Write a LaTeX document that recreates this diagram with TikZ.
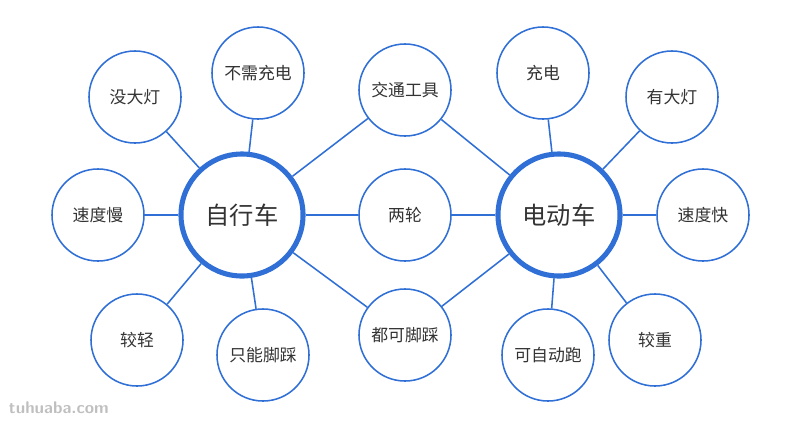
\documentclass[tikz,border=0pt]{standalone}
\usepackage{fontspec}
\usepackage{xcolor}
\setmainfont{Noto Sans CJK SC}
\definecolor{mapblue}{HTML}{2F6FD6}
\definecolor{maptext}{HTML}{333333}
\tikzset{
	leaf/.style={circle, draw=mapblue, line width=1.1pt, fill=white, minimum size=2.3cm, inner sep=0pt, text=maptext, font=\large},
	hub/.style={circle, draw=mapblue, line width=3.6pt, fill=white, minimum size=3.05cm, inner sep=0pt, text=maptext, font=\LARGE},
	link/.style={draw=mapblue, line width=1.1pt}
}
\begin{document}
\begin{tikzpicture}[x=0.025cm, y=-0.025cm]
	\useasboundingbox (0,0) rectangle (800,423);
	% hubs
	\node[hub] (bike) at (242,215) {自行车};
	\node[hub] (ebike) at (559,215) {电动车};
	% leaves
	\node[leaf] (nolight) at (135,97) {没大灯};
	\node[leaf] (nocharge) at (258,73) {不需充电};
	\node[leaf] (tool) at (405,90) {交通工具};
	\node[leaf] (charge) at (543,73) {充电};
	\node[leaf] (light) at (672,97) {有大灯};
	\node[leaf] (slow) at (98,215) {速度慢};
	\node[leaf] (wheels) at (405,215) {两轮};
	\node[leaf] (fast) at (703,215) {速度快};
	\node[leaf] (lightw) at (137,340) {较轻};
	\node[leaf] (pedal) at (263,355) {只能脚踩};
	\node[leaf] (both) at (405,335) {都可脚踩};
	\node[leaf] (auto) at (548,355) {可自动跑};
	\node[leaf] (heavy) at (655,340) {较重};
	% links
	\begin{scope}[on background layer/.style={}]
	\foreach \n in {nolight,nocharge,tool,slow,wheels,lightw,pedal,both}
		\path[link] (bike) -- (\n);
	\foreach \n in {tool,charge,light,wheels,fast,heavy,auto,both}
		\path[link] (ebike) -- (\n);
	\end{scope}
	\node[text=black!25, font=\sffamily\bfseries\large, anchor=west] (mark) at (4,408) {tuhuaba.com};
\end{tikzpicture}
\end{document}
